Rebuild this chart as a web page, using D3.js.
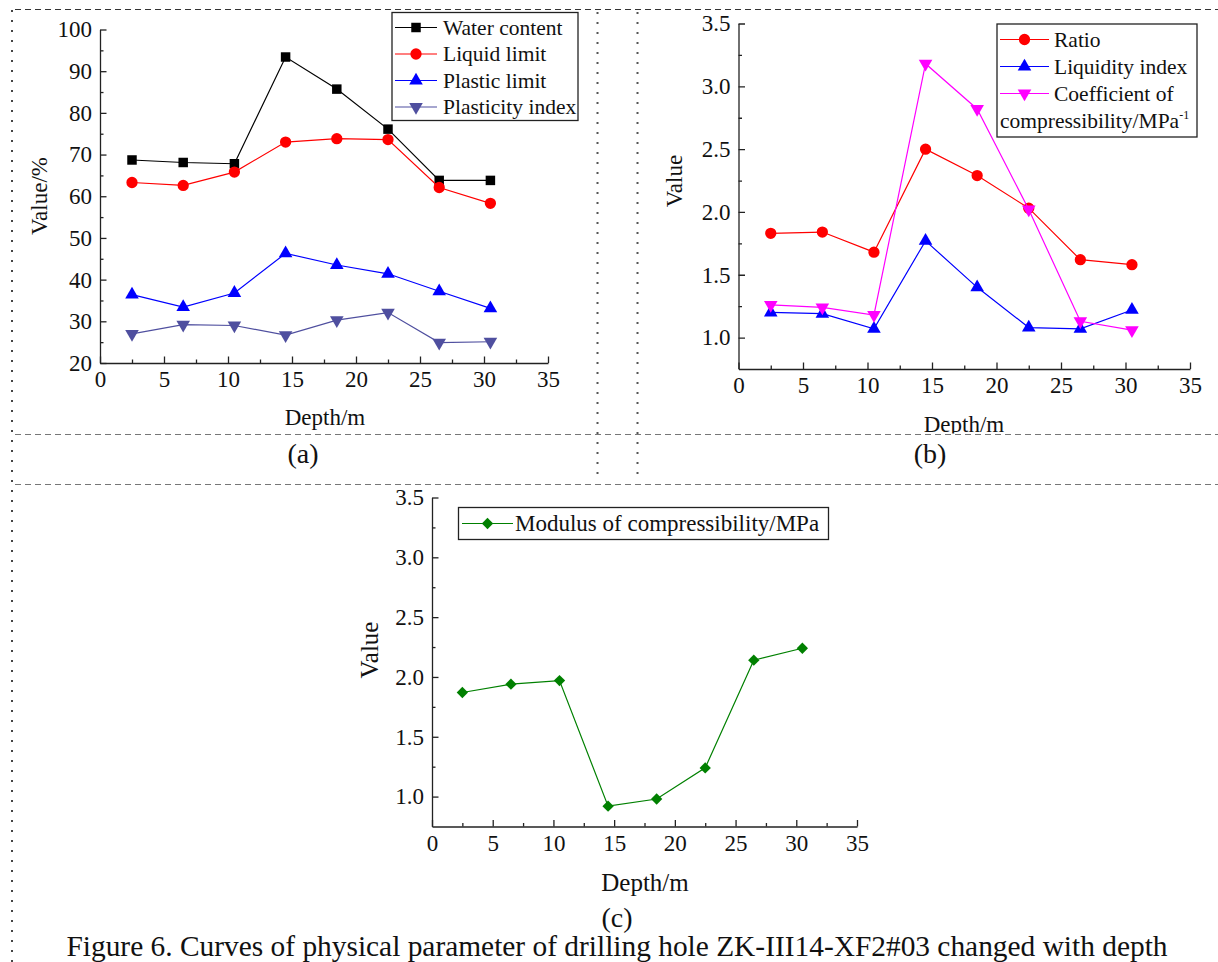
<!DOCTYPE html>
<meta charset="utf-8">

<script src="https://d3js.org/d3.v7.min.js"></script>

<style type="text/css">

body {
  margin: 0;
  background: #fff;
}

svg text {
  font-family: "Liberation Serif", "Times New Roman", serif;
  fill: #111;
}

.axis path,
.axis line {
  stroke: #222;
  stroke-width: 1.3px;
}

.minor path {
  display: none;
}

.legendBox {
  fill: #fff;
  stroke: #222;
  stroke-width: 1.3px;
}

.seriesLine {
  fill: none;
  stroke-width: 1.2px;
}

</style>

<body></body>

<script>

// depth of each sample, m
var depth = [2.5, 6.5, 10.5, 14.5, 18.5, 22.5, 26.5, 30.5];

// panel (a), %
var waterContent    = [68.7, 68.1, 67.8, 93.4, 85.7, 76.1, 63.8, 63.8];
var liquidLimit     = [63.3, 62.6, 65.8, 73.0, 73.8, 73.6, 62.1, 58.3];
var plasticLimit    = [36.4, 33.4, 36.8, 46.3, 43.5, 41.4, 37.2, 33.1];
var plasticityIndex = [27.0, 29.2, 29.0, 26.7, 30.3, 32.1, 24.9, 25.1];

// panel (b)
var ratio          = [1.83, 1.84, 1.68, 2.50, 2.29, 2.03, 1.62, 1.58];
var liquidityIndex = [1.20, 1.19, 1.07, 1.77, 1.40, 1.08, 1.07, 1.22];
var coefCompress   = [1.26, 1.24, 1.18, 3.18, 2.82, 2.02, 1.13, 1.06];

// panel (c)
var modulusCompress = [1.87, 1.94, 1.97, 0.92, 0.98, 1.24, 2.14, 2.24];

// ticks
var depthTicks  = [0, 5, 10, 15, 20, 25, 30, 35];
var depthMinor  = [2.5, 7.5, 12.5, 17.5, 22.5, 27.5, 32.5];
var valueTicksA = [20, 30, 40, 50, 60, 70, 80, 90, 100];
var valueMinorA = [25, 35, 45, 55, 65, 75, 85, 95];
var valueTicksB = [1.0, 1.5, 2.0, 2.5, 3.0, 3.5];
var valueMinorB = [1.25, 1.75, 2.25, 2.75, 3.25];

var svg = d3.select("body").append("svg")
    .attr("width", 1218)
    .attr("height", 962);

// page guide lines (dashed / dotted frame)
function guide(x1, y1, x2, y2, color, dash, w) {
  svg.append("line")
    .attr("x1", x1).attr("y1", y1).attr("x2", x2).attr("y2", y2)
    .style("stroke", color)
    .style("stroke-width", w)
    .style("stroke-dasharray", dash);
}
guide(15, 9.5, 1218, 9.5, "#333", "6,4", 1);
guide(12, 10, 12, 962, "#444", "2,8", 2);
guide(597.5, 12, 597.5, 480, "#555", "2,8", 2);
guide(637.5, 12, 637.5, 480, "#555", "2,8", 2);
guide(15, 434.5, 1218, 434.5, "#777", "6,4", 1);
guide(15, 484.5, 1218, 484.5, "#777", "6,4", 1);

function markerPath(shape) {
  if (shape == "square") return d3.symbol().type(d3.symbolSquare).size(90)();
  if (shape == "circle") return d3.symbol().type(d3.symbolCircle).size(100)();
  if (shape == "diamond") return d3.symbol().type(d3.symbolSquare).size(64)();
  return d3.symbol().type(d3.symbolTriangle).size(80)();
}

function markerRotate(shape) {
  if (shape == "down") return " rotate(180)";
  if (shape == "diamond") return " rotate(45)";
  return "";
}

function drawPanel(p) {
  var g = svg.append("g");
  if (p.clip) {
    svg.append("clipPath").attr("id", p.clip.id)
      .append("rect")
      .attr("x", p.clip.x).attr("y", p.clip.y)
      .attr("width", p.clip.w).attr("height", p.clip.h);
    g.attr("clip-path", "url(#" + p.clip.id + ")");
  }

  var xScale = d3.scaleLinear().domain([0, 35]).range([p.x0, p.x1]);
  var yScale = d3.scaleLinear().domain(p.yDomain).range([p.y0, p.y1]);

  // minor ticks
  g.append("g")
    .attr("class", "axis minor")
    .attr("transform", "translate(0," + p.y0 + ")")
    .call(d3.axisBottom(xScale).tickValues(depthMinor).tickSize(-3.5).tickFormat(""));
  g.append("g")
    .attr("class", "axis minor")
    .attr("transform", "translate(" + p.x0 + ",0)")
    .call(d3.axisLeft(yScale).tickValues(p.yMinor).tickSize(-3.5).tickFormat(""));

  // major axes
  g.append("g")
    .attr("class", "x axis")
    .attr("transform", "translate(0," + p.y0 + ")")
    .call(d3.axisBottom(xScale).tickValues(depthTicks).tickSize(-6.5).tickSizeOuter(0).tickPadding(8));
  g.append("g")
    .attr("class", "y axis")
    .attr("transform", "translate(" + p.x0 + ",0)")
    .call(d3.axisLeft(yScale).tickValues(p.yTicks).tickSize(-6.5).tickSizeOuter(0).tickPadding(8)
      .tickFormat(p.yFormat));

  g.selectAll(".axis")
    .attr("font-family", null)
    .attr("font-size", null);
  g.selectAll(".axis text")
    .style("font-size", p.tickFont + "px")
    .style("fill", "#111");

  // series
  var lineGenerator = d3.line()
    .x(function(d) { return xScale(d[0]); })
    .y(function(d) { return yScale(d[1]); });

  p.series.forEach(function(s) {
    var pts = depth.map(function(dd, i) { return [dd, s.values[i]]; });
    g.append("path")
      .attr("class", "seriesLine")
      .style("stroke", s.color)
      .attr("d", lineGenerator(pts));
    g.selectAll(".m" + s.key)
      .data(pts).enter().append("path")
      .attr("class", "m" + s.key)
      .attr("d", markerPath(s.shape))
      .attr("transform", function(d) {
        return "translate(" + xScale(d[0]) + "," + yScale(d[1]) + ")" + markerRotate(s.shape);
      })
      .style("fill", s.color);
  });

  // axis titles
  g.append("text")
    .attr("x", p.xTitle[0]).attr("y", p.xTitle[1])
    .attr("text-anchor", "middle")
    .style("font-size", p.titleFont + "px")
    .text("Depth/m");
  g.append("text")
    .attr("transform", "translate(" + p.yTitle[0] + "," + p.yTitle[1] + ") rotate(-90)")
    .attr("text-anchor", "middle")
    .style("font-size", p.titleFont + "px")
    .text(p.yLabel);

  // legend
  var L = p.legend;
  g.append("rect")
    .attr("class", "legendBox")
    .attr("x", L.x).attr("y", L.y)
    .attr("width", L.w).attr("height", L.h);
  p.series.forEach(function(s, i) {
    var ly = L.y + L.first + i * L.step;
    g.append("line")
      .attr("x1", L.lineX0).attr("x2", L.lineX1)
      .attr("y1", ly).attr("y2", ly)
      .style("stroke", s.color)
      .style("stroke-width", 1.2);
    g.append("path")
      .attr("d", markerPath(s.shape))
      .attr("transform", "translate(" + (L.lineX0 + L.lineX1) / 2 + "," + ly + ")" + markerRotate(s.shape))
      .style("fill", s.color);
    g.append("text")
      .attr("x", L.textX).attr("y", ly + 7)
      .style("font-size", L.font + "px")
      .text(s.label);
    if (s.label2) {
      var t2 = g.append("text")
        .attr("x", L.x + 3).attr("y", ly + L.step + 7)
        .style("font-size", L.font + "px")
        .text(s.label2);
      t2.append("tspan")
        .attr("dy", -9)
        .style("font-size", "12px")
        .text("-1");
    }
  });

  // panel letter
  svg.append("text")
    .attr("x", p.letter[0]).attr("y", p.letter[1])
    .attr("text-anchor", "middle")
    .style("font-size", "28px")
    .text(p.letter[2]);
}

drawPanel({
  x0: 100, x1: 548, y0: 363, y1: 29.5,
  yDomain: [20, 100], yTicks: valueTicksA, yMinor: valueMinorA, yFormat: d3.format("d"),
  tickFont: 23, titleFont: 23,
  xTitle: [325, 425], yTitle: [47, 196], yLabel: "Value/%",
  letter: [303, 463, "(a)"],
  legend: { x: 392, y: 12.5, w: 186, h: 108, first: 15, step: 26.5,
            lineX0: 395, lineX1: 437, textX: 443, font: 21.5 },
  series: [
    { key: "wc", label: "Water content", values: waterContent, color: "#000000", shape: "square" },
    { key: "ll", label: "Liquid limit", values: liquidLimit, color: "#ff0000", shape: "circle" },
    { key: "pl", label: "Plastic limit", values: plasticLimit, color: "#0000ff", shape: "up" },
    { key: "pi", label: "Plasticity index", values: plasticityIndex, color: "#4f4f9f", shape: "down" }
  ]
});

drawPanel({
  x0: 738.5, x1: 1190, y0: 369, y1: 23.5,
  yDomain: [0.75, 3.5], yTicks: valueTicksB, yMinor: valueMinorB, yFormat: d3.format(".1f"),
  tickFont: 23, titleFont: 23,
  xTitle: [964, 432], yTitle: [682, 181], yLabel: "Value",
  letter: [930, 463, "(b)"],
  clip: { id: "clipB", x: 640, y: 10, w: 578, h: 423.5 },
  legend: { x: 997, y: 24, w: 200, h: 113, first: 15.5, step: 27,
            lineX0: 1000, lineX1: 1049, textX: 1054, font: 21.5 },
  series: [
    { key: "ra", label: "Ratio", values: ratio, color: "#ff0000", shape: "circle" },
    { key: "li", label: "Liquidity index", values: liquidityIndex, color: "#0000ff", shape: "up" },
    { key: "cc", label: "Coefficient of", label2: "compressibility/MPa", values: coefCompress, color: "#ff00ff", shape: "down" }
  ]
});

drawPanel({
  x0: 432, x1: 857, y0: 826.5, y1: 497.5,
  yDomain: [0.75, 3.5], yTicks: valueTicksB, yMinor: valueMinorB, yFormat: d3.format(".1f"),
  tickFont: 23, titleFont: 25,
  xTitle: [645, 891], yTitle: [378, 650], yLabel: "Value",
  letter: [617, 927, "(c)"],
  legend: { x: 458.5, y: 507.5, w: 370, h: 32, first: 16, step: 27,
            lineX0: 462, lineX1: 513, textX: 515, font: 23 },
  series: [
    { key: "mc", label: "Modulus of compressibility/MPa", values: modulusCompress, color: "#008000", shape: "diamond" }
  ]
});

// figure caption
svg.append("text")
  .attr("x", 617).attr("y", 956)
  .attr("text-anchor", "middle")
  .style("font-size", "29.4px")
  .text("Figure 6. Curves of physical parameter of drilling hole ZK-III14-XF2#03 changed with depth");

</script>
